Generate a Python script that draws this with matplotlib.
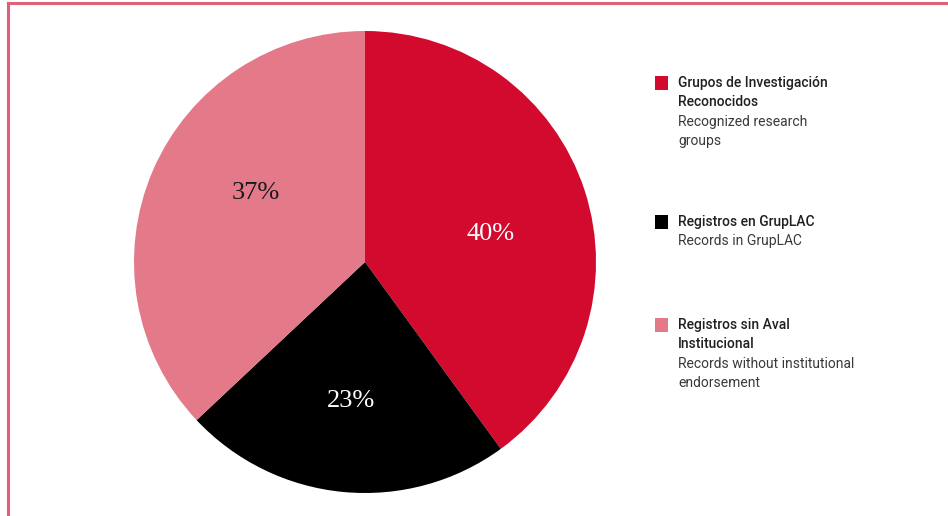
import matplotlib
matplotlib.use("Agg")
import matplotlib.pyplot as plt
from matplotlib.patches import Rectangle
from matplotlib.lines import Line2D

# ---- data ----------------------------------------------------------------- #
shares = [40, 23, 37]
titles = [["Grupos de Investigación", "Reconocidos"],
          ["Registros en GrupLAC"],
          ["Registros sin Aval", "Institucional"]]
subtitles = [["Recognized research", "groups"],
             ["Records in GrupLAC"],
             ["Records without institutional", "endorsement"]]
colors = ["#D20A2E", "#000000", "#E4798A"]
pct_colors = ["white", "white", "#1a1a1a"]
# small nudges (px) for the percentage labels
pct_nudge = [(0, -13), (-2, -8), (12, 17)]

BORDER = "#E0607A"
SANS = ["Roboto", "DejaVu Sans"]

W, H = 948, 516
fig = plt.figure(figsize=(W / 100, H / 100), dpi=100)

# pie: centre (365, 262) px, radius 231 px
cx, cy, r = 365, 262, 231
ax = fig.add_axes([(cx - r) / W, (H - cy - r) / H, 2 * r / W, 2 * r / H])
wedges, _, autotexts = ax.pie(shares, colors=colors, startangle=90,
                              counterclock=False, autopct="%d%%",
                              pctdistance=0.57, radius=1.0,
                              textprops=dict(family="Liberation Serif",
                                             fontsize=19))
for t, c, (dx, dy) in zip(autotexts, pct_colors, pct_nudge):
    t.set_color(c)
    x, y = t.get_position()
    t.set_position((x + dx / r, y + dy / r))
ax.set_xlim(-1, 1)
ax.set_ylim(-1, 1)
ax.set_aspect("equal")
ax.axis("off")

# legend blocks, one text per line
tops = [83, 222, 325]
line_h = 19.3
for top, title, sub, col in zip(tops, titles, subtitles, colors):
    fig.patches.append(Rectangle((655 / W, (H - top - 7) / H), 13 / W, 14 / H,
                                 transform=fig.transFigure, facecolor=col,
                                 edgecolor="none"))
    lines = [(s, "medium", "#231F20") for s in title] + \
            [(s, "normal", "#3a3a3a") for s in sub]
    for i, (s, wt, tc) in enumerate(lines):
        fig.text(678 / W, (H - top - i * line_h) / H, s, family=SANS,
                 fontsize=10, weight=wt, color=tc, va="center", ha="left")

# frame lines along the top and left edge
fig.add_artist(Line2D([7.5 / W, 1], [1 - 2.5 / H, 1 - 2.5 / H],
                      transform=fig.transFigure, color=BORDER, lw=2.2))
fig.add_artist(Line2D([7.5 / W, 7.5 / W], [0, 1 - 2.5 / H],
                      transform=fig.transFigure, color=BORDER, lw=2.2))

fig.savefig("out.png", dpi=100)
